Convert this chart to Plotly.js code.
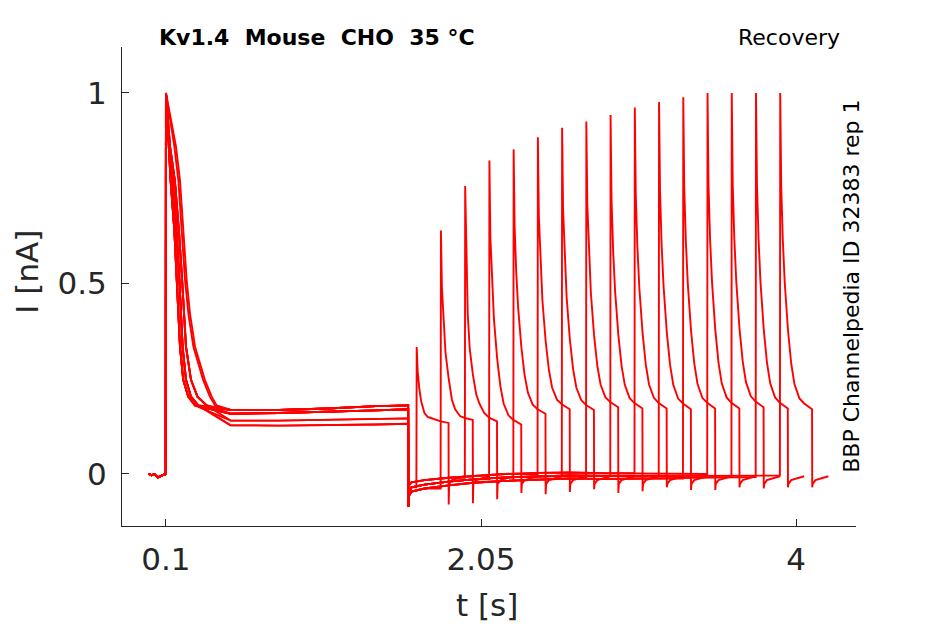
<!DOCTYPE html>
<html>
<head>
<meta charset="utf-8">
<script src="https://cdn.plot.ly/plotly-3.0.1.min.js"></script>
<style>
  html, body { margin: 0; padding: 0; background: #fff; }
  #chart { width: 945px; height: 624px; }
</style>
</head>
<body>
<div id="chart"></div>
<script>
// Kv1.4 recovery protocol, 16 sweeps, current normalised to the first peak

// holding before the first step (shared by all sweeps)
const preT = [-0.007, 0.01, 0.03, 0.05, 0.07, 0.09, 0.099];
const preV = [0.0, -0.003, -0.001, -0.009, -0.005, -0.002, 0.0];

// first pulse: current levels and the times each group of sweeps crosses them
const decayLevels = [1.0, 0.86, 0.77, 0.64, 0.51, 0.42, 0.334, 0.247, 0.203, 0.18];
const decayFastT  = [0.1, 0.115, 0.129, 0.152, 0.166, 0.176, 0.187, 0.207, 0.238, 0.28];
const decayMidT   = [0.1, 0.12, 0.142, 0.165, 0.183, 0.193, 0.203, 0.224, 0.255, 0.30];
const decayLateT  = [0.1, 0.125, 0.155, 0.18, 0.2, 0.212, 0.224, 0.255, 0.295, 0.352];
const decaySlowT  = [0.1, 0.162, 0.187, 0.207, 0.228, 0.249, 0.28, 0.341, 0.383, 0.414];
const decaySlow2T = [0.1, 0.152, 0.177, 0.197, 0.218, 0.239, 0.27, 0.33, 0.372, 0.404];

// steady-state current during the first pulse
const plateauT      = [0.5, 0.8, 1.1, 1.4, 1.599];
const plateauUpper  = [0.168, 0.168, 0.172, 0.178, 0.18];
const plateauMid    = [0.158, 0.16, 0.163, 0.167, 0.17];
const plateauLow    = [0.14, 0.14, 0.142, 0.145, 0.146];
const plateauLowest = [0.128, 0.127, 0.128, 0.13, 0.132];

// recovery interval at holding potential
const baseT     = [1.6, 1.603, 1.62, 1.7, 1.85, 2.0, 2.2, 2.4, 2.6, 2.8, 3.0, 3.3, 3.6, 3.85];
const baseUpper = [-0.085, -0.03, -0.022, -0.016, -0.01, -0.005, 0.0, 0.003, 0.004, 0.002, 0.001, 0.0, 0.0, 0.0];
const baseMid   = [-0.085, -0.045, -0.035, -0.028, -0.02, -0.014, -0.009, -0.006, -0.004, -0.005, -0.006, -0.005, -0.004, -0.004];
const baseLower = [-0.085, -0.058, -0.046, -0.038, -0.03, -0.023, -0.018, -0.014, -0.012, -0.013, -0.012, -0.01, -0.008, -0.008];

// test pulse of each sweep
const testStart = [1.65, 1.80, 1.95, 2.10, 2.25, 2.40, 2.55, 2.70, 2.85, 3.00, 3.15, 3.30, 3.45, 3.60, 3.75, 3.90];
const testOffsets = [0.002, 0.008, 0.018, 0.03, 0.05, 0.07, 0.09, 0.12, 0.15, 0.199];
const testCurves = [
  [0.333, 0.27, 0.225, 0.19, 0.16, 0.15, 0.147, 0.142, 0.138, 0.134],
  [0.639, 0.49, 0.40, 0.32, 0.25, 0.195, 0.17, 0.152, 0.147, 0.142],
  [0.756, 0.58, 0.42, 0.33, 0.26, 0.21, 0.185, 0.16, 0.148, 0.138],
  [0.823, 0.622, 0.50, 0.407, 0.303, 0.23, 0.185, 0.154, 0.142, 0.13],
  [0.852, 0.651, 0.53, 0.436, 0.332, 0.259, 0.214, 0.182, 0.17, 0.158],
  [0.884, 0.677, 0.552, 0.456, 0.349, 0.274, 0.227, 0.195, 0.183, 0.17],
  [0.909, 0.694, 0.564, 0.464, 0.353, 0.275, 0.227, 0.194, 0.181, 0.168],
  [0.925, 0.708, 0.576, 0.475, 0.363, 0.284, 0.235, 0.201, 0.189, 0.175],
  [0.942, 0.719, 0.584, 0.48, 0.365, 0.284, 0.234, 0.199, 0.186, 0.172],
  [0.962, 0.733, 0.595, 0.488, 0.37, 0.287, 0.235, 0.2, 0.186, 0.172],
  [0.976, 0.742, 0.601, 0.492, 0.372, 0.287, 0.234, 0.198, 0.185, 0.17],
  [0.989, 0.752, 0.609, 0.499, 0.376, 0.29, 0.237, 0.2, 0.187, 0.172],
  [1.0, 0.76, 0.615, 0.503, 0.379, 0.292, 0.238, 0.201, 0.187, 0.172],
  [1.0, 0.761, 0.616, 0.505, 0.381, 0.295, 0.241, 0.204, 0.19, 0.175],
  [1.0, 0.76, 0.615, 0.503, 0.379, 0.292, 0.238, 0.201, 0.187, 0.172],
  [1.0, 0.759, 0.614, 0.502, 0.378, 0.29, 0.236, 0.199, 0.185, 0.17]
];

// tail after the test pulse
const tailOffsets = [0.2, 0.203, 0.22, 0.26, 0.3];
const tailDip = [-0.08, -0.077, -0.066, -0.05, -0.053, -0.047, -0.04, -0.05,
                 -0.045, -0.035, -0.042, -0.042, -0.035, -0.038, -0.035, -0.035];
const tailRecover = [-0.026, -0.016, -0.01, -0.006];

// which group each sweep belongs to
const decayShapes = [decayFastT, decayMidT, decayLateT, decaySlowT, decaySlow2T];
const plateaus = [plateauUpper, plateauMid, plateauLow, plateauLowest];
const baselines = [baseUpper, baseMid, baseLower];
const sweepDecay   = [3, 4, 2, 1, 0, 1, 2, 0, 1, 0, 2, 1, 0, 1, 2, 0];
const sweepPlateau = [0, 0, 1, 3, 1, 0, 2, 1, 0, 2, 1, 0, 1, 3, 0, 1];
const sweepBase    = [1, 2, 0, 1, 2, 0, 1, 2, 1, 0, 1, 2, 0, 1, 2, 1];

function buildSweep(i) {
    const x = [];
    const y = [];
    preT.forEach((t, k) => { x.push(t); y.push(preV[k]); });
    decayShapes[sweepDecay[i]].forEach((t, k) => { x.push(t); y.push(decayLevels[k]); });
    const p = plateaus[sweepPlateau[i]];
    plateauT.forEach((t, k) => { x.push(t); y.push(p[k]); });
    const b = baselines[sweepBase[i]];
    let last = b[0];
    baseT.forEach((t, k) => {
        if (t < testStart[i]) { x.push(t); y.push(b[k]); last = b[k]; }
    });
    x.push(testStart[i]); y.push(last);
    testOffsets.forEach((o, k) => { x.push(testStart[i] + o); y.push(testCurves[i][k]); });
    const tail = [tailDip[i]].concat(tailRecover);
    tailOffsets.forEach((o, k) => { x.push(testStart[i] + o); y.push(tail[k]); });
    return {
        x: x, y: y,
        type: 'scatter',
        mode: 'lines',
        line: { color: '#ff0000', width: 1.9 },
        hoverinfo: 'none',
        showlegend: false
    };
}

const data = testStart.map((_, i) => buildSweep(i));

const axisColor = '#262626';
const font = 'DejaVu Sans';

const layout = {
    width: 945,
    height: 624,
    margin: { l: 122, r: 89, t: 47, b: 98 },
    paper_bgcolor: '#ffffff',
    plot_bgcolor: '#ffffff',
    font: { family: font, color: axisColor },
    showlegend: false,
    xaxis: {
        range: [-0.172, 4.371],
        tickvals: [0.1, 2.05, 4],
        ticktext: ['0.1', '2.05', '4'],
        ticks: 'inside', ticklen: 7, tickwidth: 1, tickcolor: axisColor,
        showline: true, linecolor: axisColor, linewidth: 1,
        showgrid: false, zeroline: false,
        tickfont: { family: font, size: 31, color: axisColor },
        ticklabelstandoff: 6
    },
    yaxis: {
        range: [-0.1365, 1.1207],
        tickvals: [0, 0.5, 1],
        ticktext: ['0', '0.5', '1'],
        ticks: 'inside', ticklen: 7, tickwidth: 1, tickcolor: axisColor,
        showline: true, linecolor: axisColor, linewidth: 1,
        showgrid: false, zeroline: false,
        tickfont: { family: font, size: 31, color: axisColor },
        ticklabelstandoff: 8
    },
    annotations: [
        { text: 'Kv1.4\u00a0 Mouse\u00a0 CHO\u00a0 35 °C', xref: 'paper', yref: 'paper',
          x: 0.0477, y: 1.019, xanchor: 'left', yanchor: 'middle', showarrow: false,
          font: { family: font, size: 22, color: '#000000', weight: 'bold' } },
        { text: 'Recovery', xref: 'paper', yref: 'paper',
          x: 0.981, y: 1.019, xanchor: 'right', yanchor: 'middle', showarrow: false,
          font: { family: font, size: 22, color: '#000000' } },
        { text: 'BBP Channelpedia ID 32383 rep 1', xref: 'paper', yref: 'paper',
          x: 0.9935, y: 0.5, xanchor: 'center', yanchor: 'middle', showarrow: false,
          textangle: -90, font: { family: font, size: 22, color: '#000000' } },
        { text: 'I [nA]', xref: 'paper', yref: 'paper',
          x: -0.1287, y: 0.530, xanchor: 'center', yanchor: 'middle', showarrow: false,
          textangle: -90, font: { family: font, size: 31, color: axisColor } },
        { text: 't [s]', xref: 'paper', yref: 'paper',
          x: 0.4966, y: -0.165, xanchor: 'center', yanchor: 'middle', showarrow: false,
          font: { family: font, size: 31, color: axisColor } }
    ]
};

Plotly.newPlot('chart', data, layout, { displayModeBar: false, staticPlot: true });
</script>
</body>
</html>
